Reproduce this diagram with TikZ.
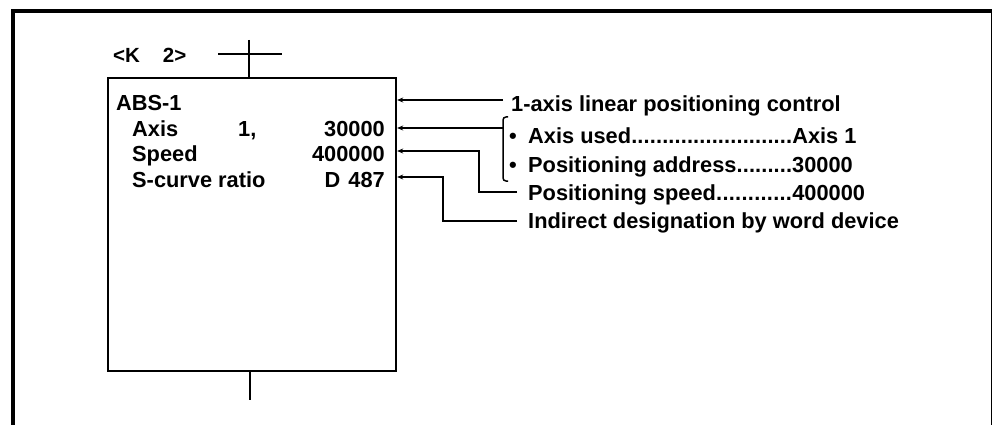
\documentclass[tikz,border=0pt]{standalone}
\usepackage{fontspec}
\setmainfont{Liberation Sans}
\usetikzlibrary{arrows.meta}
\begin{document}
\begin{tikzpicture}[x=1pt,y=-1pt,
  txt/.style={inner sep=0pt, anchor=base west, font=\bfseries\fontsize{21.8}{24}\selectfont},
  txr/.style={txt, anchor=base east},
  conn/.style={line width=1.8pt, -{Stealth[length=6pt,width=5pt]}},
  wire/.style={line width=1.8pt}]
\useasboundingbox (0,0) rectangle (993,425);
\fill[white] (0,0) rectangle (993,425);
% outer frame
\coordinate (fBL) at (13,425);
\coordinate (fTL) at (13,11);
\coordinate (fTR) at (991.5,11);
\coordinate (fBR) at (991.5,425);
\draw[line width=3.5pt] (fBL) -- (fTL) -- (fTR);
\draw[line width=1pt] (fTR) -- (fBR);
% block
\node[draw, line width=2.2pt, minimum width=288pt, minimum height=293pt, inner sep=0pt, anchor=north west] (blk) at (107,77) {};
% cross above block
\coordinate (crL) at (218,54);
\coordinate (crR) at (282,54);
\coordinate (crT) at (249,40);
\draw[wire] (crL) -- (crR);
\draw[wire] (crT) -- (crT |- blk.north);
\coordinate (stub) at (250,400);
\draw[wire] (blk.south -| stub) -- (stub);
% step label
\node[txt, font=\bfseries\fontsize{20.5}{22}\selectfont] (k2) at (113,63) {<K\hspace{23pt}2>};
% block texts
\node[txt] (abs) at (116,111) {ABS-1};
\node[txt] (axl) at (132,136) {Axis};
\node[txt] (axn) at (238,136) {1,};
\node[txr] (axv) at (385,136) {30000};
\node[txt] (spl) at (132,161) {Speed};
\node[txr] (spv) at (385,161) {400000};
\node[txt] (scl) at (132,187) {S-curve ratio};
\node[txr] (scv) at (385,187) {D\hspace{8pt}487};
% explanation texts
\node[txt] (t1) at (511,112) {1-axis linear positioning control};
\node[txt] (b2) at (509,143) {\textbullet};
\node[txt] (t2) at (528,143) {\hbox to 264pt{Axis used\xleaders\hbox{.}\hfill}Axis 1};
\node[txt] (b3) at (509,172) {\textbullet};
\node[txt] (t3) at (528,172) {\hbox to 264pt{Positioning address\xleaders\hbox{.}\hfill}30000};
\node[txt] (t4) at (528,200) {\hbox to 264pt{Positioning speed\xleaders\hbox{.}\hfill}400000};
\node[txt] (t5) at (528,228) {Indirect designation by word device};
% connectors
\coordinate (a1) at (503,100);
\draw[conn] (a1) -- (a1 -| blk.east);
\coordinate (brT) at (508,117);
\coordinate (brM) at (503,128);
\coordinate (brB) at (508,181);
\draw[line width=1.5pt, rounded corners=3pt] (brT) -| (brM) |- (brB);
\draw[conn] (brM) -- (brM -| blk.east);
\coordinate (c3) at (517,192);
\coordinate (k3) at (479,151);
\draw[conn] (c3) -| (k3) -- (k3 -| blk.east);
\coordinate (c4) at (517,221);
\coordinate (k4) at (443,177);
\draw[conn] (c4) -| (k4) -- (k4 -| blk.east);
\end{tikzpicture}
\end{document}
